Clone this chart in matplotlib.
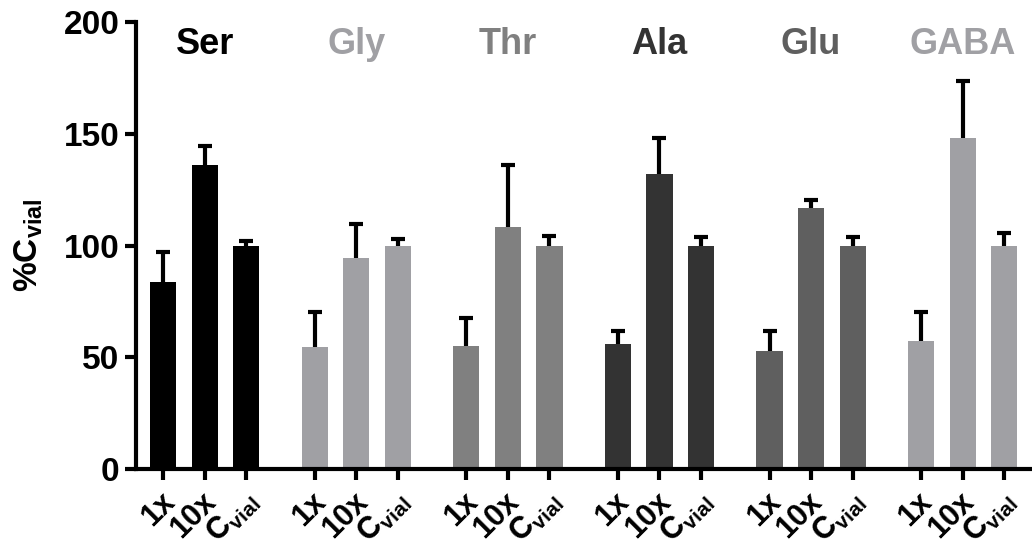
import numpy as np
import matplotlib
matplotlib.use('Agg')
import matplotlib.pyplot as plt

plt.rcParams['font.family'] = ['Liberation Sans', 'DejaVu Sans']
plt.rcParams['font.weight'] = 'bold'
plt.rcParams['mathtext.fontset'] = 'custom'
plt.rcParams['mathtext.rm'] = 'Liberation Sans'
plt.rcParams['mathtext.bf'] = 'Liberation Sans:bold'

amino_acids = ['Ser', 'Gly', 'Thr', 'Ala', 'Glu', 'GABA']
colors = ['#000000', '#a0a0a4', '#808080', '#333333', '#5f5f5f', '#a0a0a4']
conditions = ['1x', '10x', r'$\mathbf{C}_{\mathrm{vial}}$']

# mean % C_vial for 1x, 10x, C_vial
means = [
    [83.5, 136, 100],
    [54.5, 94.5, 100],
    [55, 108.5, 100],
    [56, 132, 100],
    [53, 117, 100],
    [57.5, 148, 100],
]
# upper error (SD)
errors = [
    [13.5, 8.5, 2],
    [16, 15, 3],
    [12.5, 27.5, 4.5],
    [6, 16, 4],
    [9, 3.5, 4],
    [13, 25.5, 5.5],
]

group_step = 3.65

fig = plt.figure(figsize=(10.32, 5.5), dpi=100)
ax = fig.add_axes([0.132, 0.147, 0.868, 0.813])

tick_pos = []
for i, name in enumerate(amino_acids):
    x = i * group_step + np.arange(3)
    ax.bar(x, means[i], width=0.63, color=colors[i], zorder=2)
    eb = ax.errorbar(x, means[i], yerr=[np.zeros(3), errors[i]], fmt='none',
                     ecolor='black', elinewidth=3, capsize=5, capthick=3, zorder=1)
    eb[1][0].set_visible(False)  # no lower caps
    ax.text(x[1], 190, name, ha='center', va='center', fontsize=26,
            fontweight='bold', color=colors[i])
    for xi, lab in zip(x, conditions):
        ax.annotate(lab, xy=(xi, 0), xycoords=('data', 'axes fraction'),
                    xytext=(9, -24), textcoords='offset points',
                    rotation=45, ha='right', va='baseline', rotation_mode='anchor',
                    fontsize=22, fontweight='bold', annotation_clip=False)
    tick_pos.extend(x)

ax.set_xlim(-0.65, 5 * group_step + 2.67)
ax.set_ylim(0, 200)
ax.set_yticks([0, 50, 100, 150, 200])
ax.set_xticks(tick_pos)
ax.set_xticklabels([])
ax.tick_params(axis='y', labelsize=24, width=3, length=8, pad=4)
ax.tick_params(axis='x', width=3, length=8)
for lab in ax.get_yticklabels():
    lab.set_fontweight('bold')

ax.spines['top'].set_visible(False)
ax.spines['right'].set_visible(False)
ax.spines['left'].set_linewidth(3)
ax.spines['bottom'].set_linewidth(3)

ax.set_ylabel(r'%$\mathbf{C}_{\mathrm{vial}}$', fontsize=24, fontweight='bold')
ax.yaxis.set_label_coords(-0.102, 0.5)

fig.savefig('out.png', dpi=100)
